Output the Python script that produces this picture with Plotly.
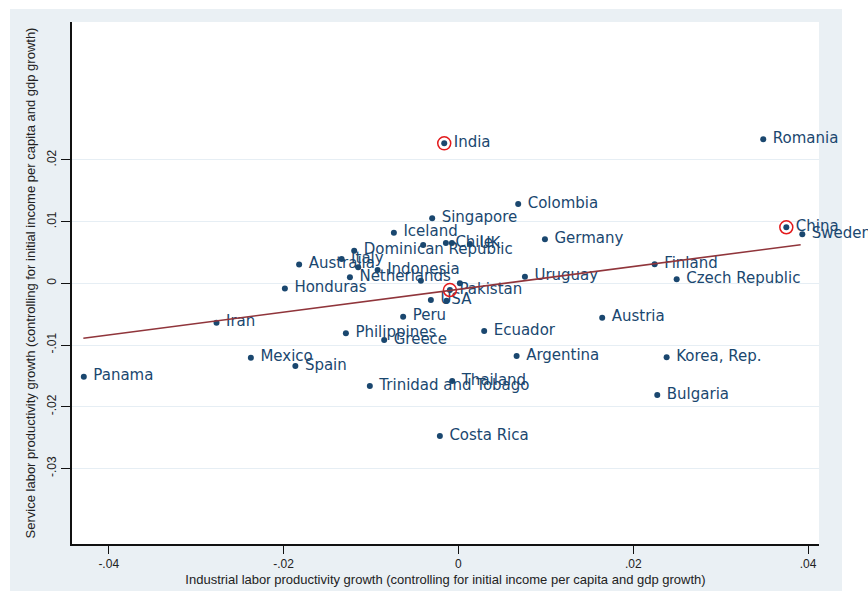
import plotly.graph_objects as go

# ---- data ----
countries = ["Romania", "India", "China", "Sweden", "Finland", "Czech Republic", "Austria",
             "Korea, Rep.", "Bulgaria", "Germany", "Colombia", "Singapore", "Iceland", "",
             "Chile", "", "UK", "Dominican Republic", "Italy", "Australia", "", "Indonesia",
             "Netherlands", "", "Honduras", "Pakistan", "", "USA", "", "Uruguay", "Peru",
             "Ecuador", "Philippines", "Greece", "Argentina", "Mexico", "Spain", "Panama",
             "Iran", "Trinidad and Tobago", "Thailand", "Costa Rica"]
industry_growth = [0.03487, -0.00162, 0.03751, 0.03934, 0.02245, 0.02497, 0.01645,
                   0.02382, 0.02275, 0.00990, 0.00684, -0.00300, -0.00738, -0.00403,
                   -0.00143, -0.00074, 0.00132, -0.01192, -0.01336, -0.01822, -0.01146, -0.00924,
                   -0.01241, -0.00429, -0.01985, -0.00097, 0.00017, -0.00315, -0.00135, 0.00761, -0.00632,
                   0.00295, -0.01287, -0.00849, 0.00666, -0.02374, -0.01865, -0.04285,
                   -0.02767, -0.01013, -0.00071, -0.00212]
service_growth = [0.02334, 0.02269, 0.00908, 0.00794, 0.00308, 0.00065, -0.00558,
                  -0.01199, -0.01810, 0.00713, 0.01285, 0.01053, 0.00820, 0.00621,
                  0.00653, 0.00653, 0.00637, 0.00528, 0.00394, 0.00305, 0.00259, 0.00216,
                  0.00097, 0.00042, -0.00084, -0.00109, 0.00000, -0.00271, -0.00282, 0.00107, -0.00541,
                  -0.00773, -0.00810, -0.00919, -0.01178, -0.01206, -0.01340, -0.01514,
                  -0.00639, -0.01665, -0.01583, -0.02475]

highlighted = ["India", "China", "Pakistan"]

fit_x = [-0.0429, 0.03915]
fit_y = [-0.00891, 0.00626]

x_tickvals = [-0.04, -0.02, 0, 0.02, 0.04]
x_ticktext = ["-.04", "-.02", "0", ".02", ".04"]
y_tickvals = [-0.03, -0.02, -0.01, 0, 0.01, 0.02]
y_ticktext = ["-.03", "-.02", "-.01", "0", ".01", ".02"]

x_title = "Industrial labor productivity growth (controlling for initial income per capita and gdp growth)"
y_title = "Service labor productivity growth (controlling for initial income per capita and gdp growth)"

# ---- styling ----
NAVY = "#1A476F"
MAROON = "#90353B"
OUTER = "#EAF0F4"

W, H = 868, 591
ML, MR, MT, MB = 72, 49, 22, 47
pw, ph = W - ML - MR, H - MT - MB

fig = go.Figure()

labels = [(" " + c) if c else "" for c in countries]

fig.add_trace(go.Scatter(
    x=industry_growth, y=service_growth, mode="markers+text",
    text=labels, textposition="middle right",
    textfont=dict(family="DejaVu Sans", size=15, color=NAVY),
    marker=dict(size=6, color=NAVY),
    hoverinfo="skip", showlegend=False, cliponaxis=False))

hx = [industry_growth[countries.index(c)] for c in highlighted]
hy = [service_growth[countries.index(c)] for c in highlighted]
fig.add_trace(go.Scatter(
    x=hx, y=hy, mode="markers",
    marker=dict(symbol="circle-open", size=13, color="#E31A1C", line=dict(width=1.5, color="#E31A1C")),
    hoverinfo="skip", showlegend=False))

fig.add_trace(go.Scatter(
    x=fit_x, y=fit_y, mode="lines",
    line=dict(color=MAROON, width=1.6),
    hoverinfo="skip", showlegend=False))

# outer light region and inner white plot region
fig.add_shape(type="rect", xref="paper", yref="paper", layer="below",
              x0=(10 - ML) / pw, x1=(842 - ML) / pw,
              y0=-(MB) / ph, y1=(H - MB - 9) / ph,
              fillcolor=OUTER, line=dict(width=0))
fig.add_shape(type="rect", xref="paper", yref="paper", layer="below",
              x0=0, x1=1, y0=0, y1=1, fillcolor="white", line=dict(width=0))

TXT = "#222222"
fig.update_layout(
    width=W, height=H,
    margin=dict(l=ML, r=MR, t=MT, b=MB, autoexpand=False),
    paper_bgcolor="white", plot_bgcolor="white",
    font=dict(family="Liberation Sans", size=10, color=TXT),
    xaxis=dict(range=[-0.0442, 0.04125], tickvals=x_tickvals, ticktext=x_ticktext,
               automargin=False,
               showgrid=False, zeroline=False, showline=True, linecolor="#111111", linewidth=1.5,
               ticks="outside", ticklen=8, tickwidth=1.3, tickcolor="#111111",
               ticklabelstandoff=0,
               tickfont=dict(family="Liberation Sans", size=12, color=TXT),
               title=dict(text=x_title, font=dict(family="Liberation Sans", size=13, color=TXT), standoff=5)),
    yaxis=dict(range=[-0.04225, 0.04235], tickvals=y_tickvals, ticktext=y_ticktext,
               automargin=False,
               tickangle=-90,
               showgrid=True, gridcolor="#E6EEF4", gridwidth=1, zeroline=False,
               showline=True, linecolor="#111111", linewidth=1.5,
               ticks="outside", ticklen=9, tickwidth=1.3, tickcolor="#111111",
               tickfont=dict(family="Liberation Sans", size=12, color=TXT),
               title=dict(text=y_title, font=dict(family="Liberation Sans", size=13, color=TXT), standoff=7)),
)

fig.write_html("out.html")
